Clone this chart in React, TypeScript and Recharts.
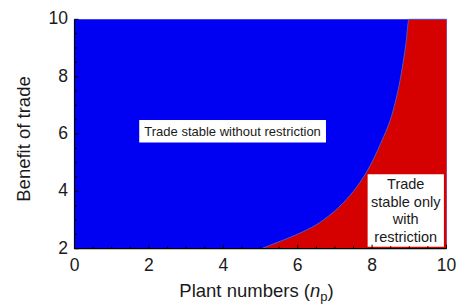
import React from "react";
import { ComposedChart, Area, XAxis, YAxis, ReferenceArea } from "recharts";

// Plant numbers at which the stability boundary was read
const plantNumbers = [0, 5.03, 5.39, 5.84, 6.69, 7.21, 7.59, 7.88, 8.23, 8.57, 8.77, 8.91, 8.99, 10];
// Upper limit of the benefit axis (whole region, blue)
const benefitCeiling = [10, 10, 10, 10, 10, 10, 10, 10, 10, 10, 10, 10, 10, 10];
// Boundary benefit below which trade is only stable with restriction (red)
const boundaryBenefit: (number | null)[] = [null, 2, 2.19, 2.42, 3.0, 3.58, 4.16, 4.74, 5.67, 6.84, 8.0, 9.16, 10, 10];

const xTicks = [0, 0.5, 1, 1.5, 2, 2.5, 3, 3.5, 4, 4.5, 5, 5.5, 6, 6.5, 7, 7.5, 8, 8.5, 9, 9.5, 10];
const yTicks = [2, 2.5, 3, 3.5, 4, 4.5, 5, 5.5, 6, 6.5, 7, 7.5, 8, 8.5, 9, 9.5, 10];

const labelWithout = ["Trade stable without restriction"];
const labelWith = ["Trade", "stable only", "with", "restriction"];

const data = plantNumbers.map((x, i) => ({
  x,
  ceiling: benefitCeiling[i],
  boundary: boundaryBenefit[i],
}));

const FONT = "'Liberation Sans', Arial, Helvetica, sans-serif";
const TEXT = "#1a1a1a";

const XTick = (props: any) => {
  const { x, y, payload } = props;
  const v = payload.value as number;
  const major = v % 2 === 0;
  return (
    <g>
      <line x1={x} y1={y} x2={x} y2={y - (major ? 4 : 2.5)} stroke="#000" strokeWidth={1} />
      {major && (
        <text x={x} y={y + 22.3} textAnchor="middle" fontSize={17.5} fontFamily={FONT} fill={TEXT}>
          {v}
        </text>
      )}
    </g>
  );
};

const YTick = (props: any) => {
  const { x, y, payload } = props;
  const v = payload.value as number;
  const major = v % 2 === 0;
  return (
    <g>
      <line x1={x} y1={y} x2={x + (major ? 4 : 2.5)} y2={y} stroke="#000" strokeWidth={1} />
      {major && (
        <text x={x - 6.5} y={y + 5} textAnchor="end" fontSize={17.5} fontFamily={FONT} fill={TEXT}>
          {v}
        </text>
      )}
    </g>
  );
};

const XTitle = (props: any) => {
  const vb = props.viewBox || { x: 74.5, y: 248.7, width: 372, height: 50 };
  const cx = vb.x + vb.width / 2 - 4;
  const by = vb.y + 48;
  return (
    <text x={cx} y={by} textAnchor="middle" fontSize={18.5} fontFamily={FONT} fill={TEXT}>
      Plant numbers (<tspan fontStyle="italic">n</tspan>
      <tspan fontSize={13} dy={4}>p</tspan>
      <tspan dy={-4}>)</tspan>
    </text>
  );
};

const YTitle = (props: any) => {
  const vb = props.viewBox || { x: 4.5, y: 19.3, width: 70, height: 229.4 };
  const bx = vb.x + 25.5;
  const cy = vb.y + vb.height / 2 + 5;
  return (
    <text
      x={bx}
      y={cy}
      textAnchor="middle"
      fontSize={18.5}
      fontFamily={FONT}
      fill={TEXT}
      transform={`rotate(-90, ${bx}, ${cy})`}
    >
      Benefit of trade
    </text>
  );
};

const BoxText = (props: any) => {
  const { viewBox, lines, size } = props;
  if (!viewBox) return null;
  const cx = viewBox.x + viewBox.width / 2;
  const cy = viewBox.y + viewBox.height / 2;
  const lh = 17.6;
  const start = cy - ((lines.length - 1) * lh) / 2;
  return (
    <text textAnchor="middle" fontSize={size} fontFamily={FONT} fill={TEXT}>
      {lines.map((l: string, i: number) => (
        <tspan key={i} x={cx} y={start + i * lh} dy="0.36em">
          {l}
        </tspan>
      ))}
    </text>
  );
};

export default function App() {
  return (
    <div style={{ position: "absolute", left: 0, top: 0 }}>
      <ComposedChart
        width={458}
        height={305}
        data={data}
        margin={{ top: 19.3, right: 11.5, left: 4.5, bottom: 6.3 }}
      >
        <XAxis
          dataKey="x"
          type="number"
          domain={[0, 10]}
          ticks={xTicks}
          interval={0}
          tickSize={0}
          tickMargin={0}
          tickLine={false}
          tick={<XTick />}
          height={50}
          axisLine={{ stroke: "#000", strokeWidth: 1.2 }}
          label={<XTitle />}
        />
        <YAxis
          type="number"
          domain={[2, 10]}
          ticks={yTicks}
          interval={0}
          tickSize={0}
          tickMargin={0}
          tickLine={false}
          tick={<YTick />}
          width={70}
          axisLine={{ stroke: "#000", strokeWidth: 1.2 }}
          label={<YTitle />}
        />
        <Area
          dataKey="ceiling"
          type="linear"
          fill="#0000F2"
          fillOpacity={1}
          stroke="none"
          isAnimationActive={false}
          baseValue={2}
        />
        <Area
          dataKey="boundary"
          type="monotone"
          fill="#D50000"
          fillOpacity={1}
          stroke="#5458c8"
          strokeWidth={1}
          isAnimationActive={false}
          baseValue={2}
        />
        <ReferenceArea
          x1={1.74}
          x2={6.76}
          y1={5.7}
          y2={6.49}
          fill="#ffffff"
          fillOpacity={1}
          stroke="none"
          label={<BoxText lines={labelWithout} size={13} />}
        />
        <ReferenceArea
          x1={7.88}
          x2={9.93}
          y1={2.07}
          y2={4.6}
          fill="#ffffff"
          fillOpacity={1}
          stroke="none"
          label={<BoxText lines={labelWith} size={14.5} />}
        />
      </ComposedChart>
    </div>
  );
}
